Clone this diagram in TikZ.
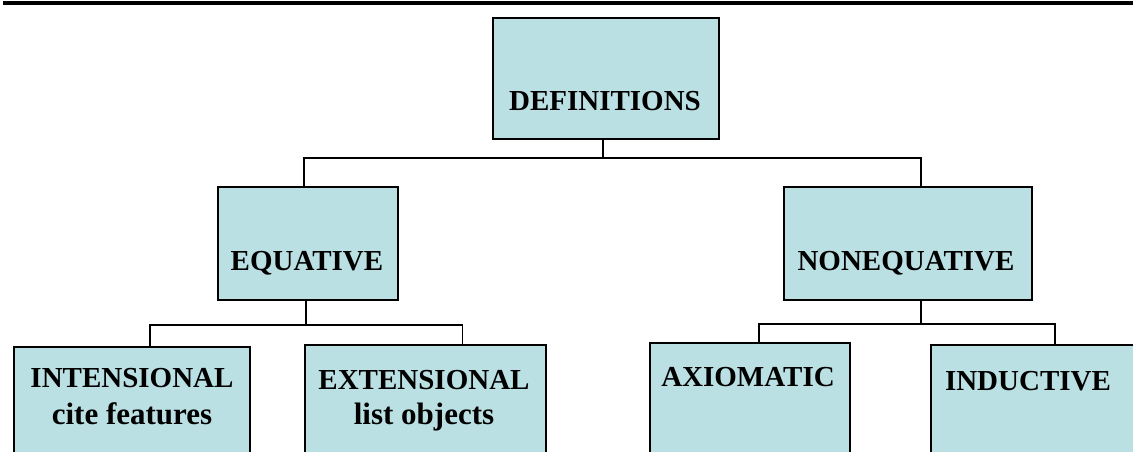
\documentclass[tikz,border=0pt]{standalone}
\usepackage{fontspec}
\setmainfont{Liberation Serif}
\usetikzlibrary{calc}
\definecolor{boxfill}{RGB}{187,224,227}
\begin{document}
\begin{tikzpicture}[x=1pt,y=-1pt,
  box/.style={draw=black,line width=1.8pt,fill=boxfill,rectangle,inner sep=0pt,anchor=north west},
  lbl/.style={font=\fontsize{29}{32}\selectfont\bfseries,inner sep=0pt,anchor=base},
  sub/.style={font=\fontsize{31}{34}\selectfont\bfseries,inner sep=0pt,anchor=base},
  conn/.style={draw=black,line width=1.5pt}]
\useasboundingbox (0,0) rectangle (1133,451);
\clip (0,0) rectangle (1133,451);
\fill[white] (0,0) rectangle (1133,451);
\draw[line width=3.8pt] (3,3.3) -- (1140,3.3);
% boxes
\node[box, minimum width=226pt, minimum height=121pt] (defs) at (492,17) {};
\node[box, minimum width=180pt, minimum height=113pt] (equ) at (217,186) {};
\node[box, minimum width=248pt, minimum height=113pt] (neq) at (783,186) {};
\node[box, minimum width=236pt, minimum height=140pt] (int) at (13,346) {};
\node[box, minimum width=241pt, minimum height=140pt] (ext) at (304,344) {};
\node[box, minimum width=200pt, minimum height=140pt] (axi) at (649,342) {};
\node[box, minimum width=230pt, minimum height=140pt] (ind) at (930,344) {};
% labels
\node[lbl] (defs-t) at (605,110) {DEFINITIONS};
\node[lbl] (equ-t) at (307,270) {EQUATIVE};
\node[lbl] (neq-t) at (906,270) {NONEQUATIVE};
\node[lbl] (int-t) at (132,387) {INTENSIONAL};
\node[sub] (int-s) at (132,424) {cite features};
\node[lbl] (ext-t) at (424,389) {EXTENSIONAL};
\node[sub] (ext-s) at (424,424) {list objects};
\node[lbl] (axi-t) at (748,386) {AXIOMATIC};
\node[lbl] (ind-t) at (1028,390) {INDUCTIVE};
% connectors
\coordinate (j1) at ($(defs.south)+(-3,18)$);
\draw[conn] ([xshift=-3pt]defs.south) -- (j1);
\draw[conn] ([xshift=-4pt]equ.north) |- (j1) -| ([xshift=13pt]neq.north);
\coordinate (j2) at ($(equ.south)+(-2,24)$);
\draw[conn] ([xshift=-2pt]equ.south) -- (j2);
\draw[conn] ([xshift=18pt]int.north) |- (j2) -| ([xshift=37pt]ext.north);
\coordinate (j3) at ($(neq.south)+(13,23)$);
\draw[conn] ([xshift=13pt]neq.south) -- (j3);
\draw[conn] ([xshift=9pt]axi.north) |- (j3) -| ([xshift=9pt]ind.north);
\end{tikzpicture}
\end{document}
